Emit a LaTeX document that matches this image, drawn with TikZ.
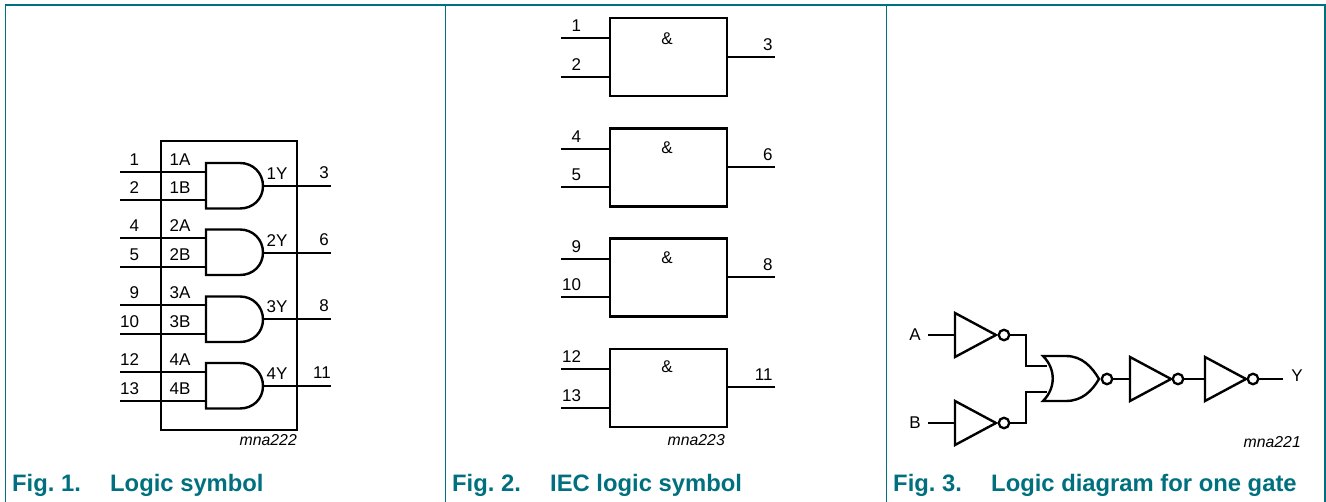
\documentclass[tikz,border=0pt]{standalone}
\usepackage{fontspec}
\setmainfont{Liberation Sans}
\frenchspacing
\definecolor{figteal}{HTML}{00707F}
\tikzset{
  lead/.style={line width=1.2pt,line cap=butt},
  heavy/.style={line width=2.4pt,line join=miter},
  txt/.style={inner sep=0pt,outer sep=0pt,font=\fontsize{17}{18}\selectfont},
  tagtext/.style={inner sep=0pt,anchor=east,font=\fontsize{15.8}{18}\selectfont\itshape},
  figcap/.style={inner sep=0pt,anchor=base west,text=figteal,font=\fontsize{23.8}{26}\bfseries\selectfont},
  frameline/.style={draw=figteal,line width=1.2pt},
  bub/.style={circle,draw,line width=2.3pt,minimum size=10.5pt,inner sep=0pt,outer sep=0pt},
  iecbox/.style={draw,line width=2.4pt,minimum width=117pt,minimum height=78pt,inner sep=0pt,outer sep=0pt,anchor=north west},
  andgate/.pic={
    \draw[heavy] (0,0) -- (34,0) .. controls (47,0) and (57,10) .. (57,23) .. controls (57,36) and (47,45.5) .. (34,45.5) -- (0,45.5) -- cycle;
    \coordinate (-i1) at (0,9);
    \coordinate (-i2) at (0,37.5);
    \coordinate (-o) at (57,23);
  },
  invgate/.pic={
    \draw[heavy] (0,-22) -- (41,0) -- (0,22) -- cycle;
    \coordinate (-i) at (0,0);
    \coordinate (-o) at (41,0);
  }
}
\begin{document}
\begin{tikzpicture}[x=1pt,y=-1pt]
\useasboundingbox (0,0) rectangle (1326,502);
% frames
\coordinate (tl) at (5.5,5);
\coordinate (tr) at (1325,5);
\coordinate (bl) at (5.5,502);
\coordinate (b1t) at (445.5,5);
\coordinate (b1b) at (445.5,502);
\coordinate (b2t) at (886.5,5);
\coordinate (b2b) at (886.5,502);
\coordinate (b3b) at (1325,502);
\draw[frameline] (bl) -- (tl) -- (tr) -- (b3b);
\draw[frameline] (b1t) -- (b1b);
\draw[frameline] (b2t) -- (b2b);
% Fig 1
\node[draw,line width=2.4pt,minimum width=136pt,minimum height=289pt,inner sep=0pt,outer sep=0pt,anchor=north west] (sym) at (161,141) {};
\pic (g1) at (206,163) {andgate};
\pic (g2) at (206,229.5) {andgate};
\pic (g3) at (206,296.5) {andgate};
\pic (g4) at (206,363) {andgate};
\foreach \gt/\yi/\yii/\yo/\pa/\pb/\pc/\nn/\xc in {g1/172/200/186/1/2/3/1/324,g2/238/267/253/4/5/6/2/324,g3/305/334/319/9/10/8/3/324,g4/372/401/386/12/13/11/4/322}{
  \coordinate (\gt a) at (120,\yi);
  \coordinate (\gt b) at (120,\yii);
  \coordinate (\gt c) at (331,\yo);
  \draw[lead] (\gt a) -- (\gt-i1 |- \gt a);
  \draw[lead] (\gt b) -- (\gt-i2 |- \gt b);
  \draw[lead] (\gt-o |- \gt c) -- (\gt c);
  \node[txt,anchor=east] (\gt la) at (139,\yi-12) {\pa};
  \node[txt,anchor=east] (\gt lb) at (139,\yii-12) {\pb};
  \node[txt] (\gt lc) at (\xc,\yo-13) {\pc};
  \node[txt] (\gt na) at (180,\yi-12) {\nn A};
  \node[txt] (\gt nb) at (180,\yii-12) {\nn B};
  \node[txt] (\gt ny) at (277,\yo-12.5) {\nn Y};
}
\node[tagtext] (t1) at (297,440) {mna222};
\node[figcap] (c1a) at (12,492) {Fig. 1.};
\node[figcap] (c1b) at (110,492) {Logic symbol};
% Fig 2
\foreach \kk/\tp/\yi/\yii/\yo/\pa/\pb/\pc/\ya in {1/18/38/77/57/1/2/3/39,2/128.5/149/187/167/4/5/6/148,3/238.5/259/297/277/9/10/8/258,4/349/369/408/387/12/13/11/367}{
  \node[iecbox] (box\kk) at (610,\tp) {};
  \coordinate (box\kk a) at (561,\yi);
  \coordinate (box\kk b) at (561,\yii);
  \coordinate (box\kk c) at (775,\yo);
  \draw[lead] (box\kk a) -- (box\kk.west |- box\kk a);
  \draw[lead] (box\kk b) -- (box\kk.west |- box\kk b);
  \draw[lead] (box\kk.east |- box\kk c) -- (box\kk c);
  \node[txt,anchor=east] (box\kk la) at (581,\yi-12.5) {\pa};
  \node[txt,anchor=east] (box\kk lb) at (581,\yii-12.5) {\pb};
  \node[txt,anchor=east] (box\kk lc) at (772.5,\yo-12) {\pc};
  \node[txt] (box\kk amp) at (667,\ya) {\&};
}
\node[tagtext] (t2) at (725,440) {mna223};
\node[figcap] (c2a) at (452,492) {Fig. 2.};
\node[figcap] (c2b) at (550,492) {IEC logic symbol};
% Fig 3
\pic (i1) at (955,335) {invgate};
\pic (i2) at (955,423) {invgate};
\pic (i3) at (1130,379) {invgate};
\pic (i4) at (1205,379) {invgate};
\node[bub] (b1) at (1004,335) {};
\node[bub] (b2) at (1004,423) {};
\node[bub] (b3) at (1107,379) {};
\node[bub] (b4) at (1178,379) {};
\node[bub] (b5) at (1253,379) {};
\draw[heavy] (1043,356) -- (1066,356) .. controls (1082,356) and (1092,367) .. (1099,379) .. controls (1092,391) and (1082,401) .. (1066,401) -- (1043,401) .. controls (1056,388) and (1056,369) .. (1043,356) -- cycle;
\coordinate (nor1) at (1047,366);
\coordinate (nor2) at (1047,392);
\coordinate (nort) at (1099,379);
\node[txt,anchor=center] (la) at (915,335) {A};
\node[txt,anchor=center] (lb) at (915,423) {B};
\node[txt,anchor=center] (ly) at (1297,376) {Y};
\coordinate (ina) at (928,335);
\coordinate (inb) at (928,423);
\coordinate (outy) at (1283,379);
\draw[lead] (ina) -- (i1-i);
\draw[lead] (inb) -- (i2-i);
\draw[lead] (b1) -| (1026,366) -- (nor1);
\draw[lead] (b2) -| (1026,392) -- (nor2);
\draw[lead] (b3) -- (i3-i);
\draw[lead] (b4) -- (i4-i);
\draw[lead] (b5) -- (outy);
\node[tagtext] (t3) at (1301,442) {mna221};
\node[figcap] (c3a) at (893,492) {Fig. 3.};
\node[figcap] (c3b) at (991,492) {Logic diagram for one gate};
\end{tikzpicture}
\end{document}
